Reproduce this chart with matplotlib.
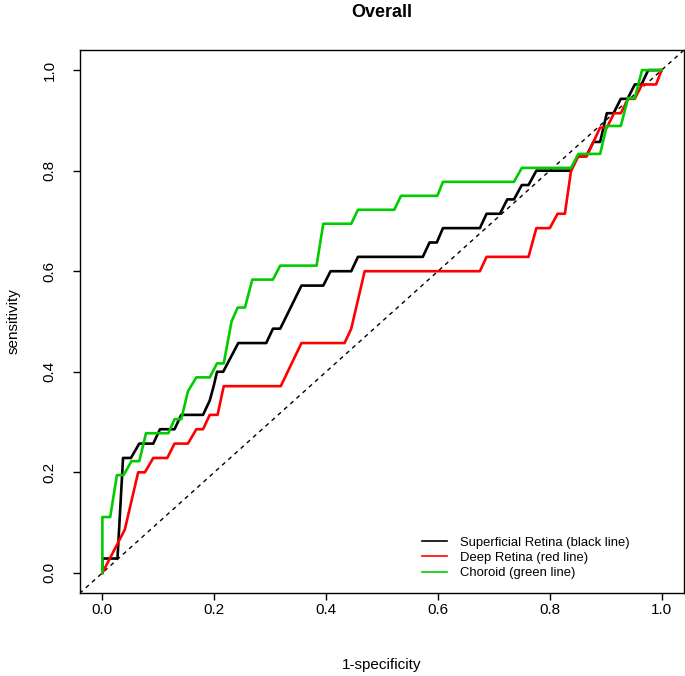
import matplotlib
matplotlib.use("Agg")
import matplotlib.pyplot as plt
import numpy as np

plt.rcParams['font.family'] = ['Liberation Sans', 'DejaVu Sans']

# ROC points (x = 1-specificity, y = count of positives)
black_x = [0, 0, 0.027, 0.037, 0.051, 0.066, 0.091, 0.103, 0.129, 0.141, 0.180,
           0.192, 0.199, 0.205, 0.216, 0.243, 0.293, 0.305, 0.318, 0.356, 0.395,
           0.408, 0.445, 0.457, 0.573, 0.585, 0.598, 0.609, 0.675, 0.687, 0.711,
           0.724, 0.736, 0.750, 0.762, 0.776, 0.838, 0.850, 0.865, 0.878, 0.890,
           0.902, 0.914, 0.927, 0.939, 0.952, 0.964, 0.976, 1.0]
black_k = [0, 1, 1, 8, 8, 9, 9, 10, 10, 11, 11,
           12, 13, 14, 14, 16, 16, 17, 17, 20, 20,
           21, 21, 22, 22, 23, 23, 24, 24, 25, 25,
           26, 26, 27, 27, 28, 28, 29, 29, 30, 30,
           32, 32, 33, 33, 34, 34, 35, 35]

red_x = [0, 0.040, 0.064, 0.076, 0.091, 0.116, 0.129, 0.153, 0.168, 0.180, 0.192,
         0.206, 0.217, 0.319, 0.356, 0.433, 0.445, 0.469, 0.675, 0.687, 0.762,
         0.776, 0.800, 0.814, 0.827, 0.838, 0.851, 0.866, 0.878, 0.890, 0.902,
         0.915, 0.927, 0.940, 0.952, 0.965, 0.990, 1.0]
red_k = [0, 3, 7, 7, 8, 8, 9, 9, 10, 10, 11,
         11, 13, 13, 16, 16, 17, 21, 21, 22, 22,
         24, 24, 25, 25, 28, 29, 29, 30, 31, 31,
         32, 32, 33, 33, 34, 34, 35]

green_x = [0, 0, 0.014, 0.026, 0.038, 0.052, 0.066, 0.078, 0.118, 0.129, 0.141,
           0.153, 0.168, 0.192, 0.205, 0.217, 0.231, 0.242, 0.255, 0.268, 0.305,
           0.318, 0.383, 0.395, 0.445, 0.457, 0.522, 0.534, 0.599, 0.609, 0.736,
           0.750, 0.838, 0.851, 0.890, 0.902, 0.927, 0.940, 0.952, 0.965, 1.0]
green_k = [0, 4, 4, 7, 7, 8, 8, 10, 10, 11, 11,
           13, 14, 14, 15, 15, 18, 19, 19, 21, 21,
           22, 22, 25, 25, 26, 26, 27, 27, 28, 28,
           29, 29, 30, 30, 32, 32, 34, 34, 36, 36]

n_black, n_red, n_green = 35, 35, 36
labels = ['Superficial Retina (black line)', 'Deep Retina (red line)',
          'Choroid (green line)']
ticks = [0.0, 0.2, 0.4, 0.6, 0.8, 1.0]

fig = plt.figure(figsize=(6.85, 6.76), dpi=100)
ax = fig.add_axes([80/685, 1-593/676, 604/685, 543/676])

ax.plot([-1, 2], [-1, 2], color='black', linestyle=(0, (3, 3)), linewidth=1)
ax.plot(black_x, np.array(black_k) / n_black, color='black', linewidth=1.9, label=labels[0])
ax.plot(red_x, np.array(red_k) / n_red, color='#FF0000', linewidth=1.9, label=labels[1])
ax.plot(green_x, np.array(green_k) / n_green, color='#00CD00', linewidth=1.9, label=labels[2])

ax.set_xlim(-0.04, 1.04)
ax.set_ylim(-0.04, 1.04)
ax.set_xticks(ticks)
ax.set_yticks(ticks)
ax.set_xticklabels([f'{t:.1f}' for t in ticks], fontsize=11)
ax.set_yticklabels([f'{t:.1f}' for t in ticks], fontsize=11, rotation=90, va='center')
ax.tick_params(direction='out', length=5, width=1)
ax.tick_params(axis='x', pad=2)
ax.tick_params(axis='y', pad=12)
for s in ax.spines.values():
    s.set_linewidth(1)

ax.set_xlabel('1-specificity', fontsize=11, labelpad=30)
ax.set_ylabel('sensitivity', fontsize=11, labelpad=16)
ax.set_title('Overall', fontsize=13, fontweight='bold', pad=24)

leg = ax.legend(loc='lower left', bbox_to_anchor=(0.566, 0.025), frameon=False,
                borderaxespad=0, borderpad=0, fontsize=9.4, handlelength=1.9,
                handletextpad=1.0, labelspacing=0.25)
for line in leg.get_lines():
    line.set_linewidth(1.2)

fig.savefig('out.png', dpi=100)
